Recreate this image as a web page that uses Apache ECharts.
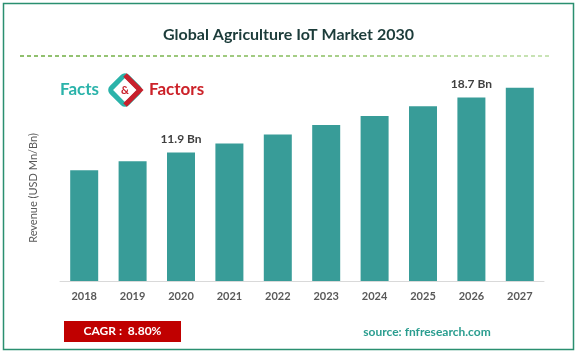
<!DOCTYPE html>
<html>
<head>
<meta charset="utf-8">
<script src="https://cdn.jsdelivr.net/npm/echarts@6/dist/echarts.min.js"></script>
<style>
  html, body { margin: 0; padding: 0; background: #fff; }
  #myChart { width: 577px; height: 353px; }
</style>
</head>
<body>
<div id="myChart"></div>
<script>
var years = ['2018', '2019', '2020', '2021', '2022', '2023', '2024', '2025', '2026', '2027'];
var revenue = [9.7, 10.8, 11.9, 13.0, 14.1, 15.3, 16.4, 17.6, 18.7, 19.9];
var labelledYears = ['2020', '2026'];

var yMin = -4;
var myChart = echarts.init(document.getElementById('myChart'));

var barData = revenue.map(function (v, i) {
    return [i, v];
});

// bars are drawn from the bottom of the value axis, not from zero
function renderBar(params, api) {
    var idx = api.value(0);
    var top = api.coord([idx, api.value(1)]);
    var base = api.coord([idx, yMin]);
    var w = 28;
    var children = [{
        type: 'rect',
        shape: { x: top[0] - w / 2, y: top[1], width: w, height: base[1] - top[1] },
        style: { fill: '#389c98' }
    }];
    if (labelledYears.indexOf(years[idx]) >= 0) {
        children.push({
            type: 'text',
            x: top[0],
            y: top[1] - 7,
            style: {
                text: api.value(1) + ' Bn',
                fill: '#404040',
                font: 'bold 12px Lato',
                align: 'center',
                verticalAlign: 'bottom'
            }
        });
    }
    return { type: 'group', children: children };
}

var option = {
    title: {
        text: 'Global Agriculture IoT Market 2030',
        left: 'center',
        top: 22,
        textStyle: {
            fontFamily: 'Lato',
            fontWeight: 'bold',
            fontSize: 16,
            color: '#1c3c3a'
        }
    },
    grid: {
        left: 60,
        right: 33,
        top: 70.7,
        bottom: 72
    },
    xAxis: {
        type: 'category',
        data: years,
        axisTick: { show: false },
        axisLine: { onZero: false, lineStyle: { color: '#d9d9d9' } },
        axisLabel: {
            color: '#595959',
            fontFamily: 'Lato',
            fontWeight: 'bold',
            fontSize: 11,
            margin: 10
        }
    },
    yAxis: {
        type: 'value',
        min: yMin,
        max: 22,
        show: false
    },
    series: [
        {
            type: 'custom',
            renderItem: renderBar,
            data: barData,
            encode: { x: 0, y: 1 },
            z: 1
        }
    ],
    graphic: [
        {
            type: 'rect',
            shape: { x: 3.5, y: 3.5, width: 570, height: 346 },
            style: { fill: 'none', stroke: '#2a8f70', lineWidth: 1.5 },
            silent: true
        },
        {
            type: 'line',
            shape: { x1: 20, y1: 56, x2: 549, y2: 56 },
            style: {
                stroke: new echarts.graphic.LinearGradient(0, 0, 1, 0, [
                    { offset: 0, color: '#6aaa3c' },
                    { offset: 0.6, color: '#8cc063' },
                    { offset: 1, color: '#b9dca0' }
                ]),
                lineWidth: 1.5,
                lineDash: [4, 3]
            }
        },
        {
            type: 'text',
            left: 60,
            top: 81,
            style: {
                text: 'Facts',
                fill: '#2bb3aa',
                font: 'bold 17px Lato'
            }
        },
        {
            type: 'group',
            x: 125,
            y: 90,
            children: [
                {
                    type: 'rect',
                    rotation: Math.PI / 4,
                    shape: { x: -11, y: -11, width: 22, height: 22, r: 3 },
                    style: { fill: 'none', stroke: '#2bb3aa', lineWidth: 5 }
                },
                {
                    type: 'polyline',
                    shape: { points: [[0, -15], [15, 0], [0, 15]] },
                    style: { fill: 'none', stroke: '#c8202c', lineWidth: 5 }
                },
                {
                    type: 'text',
                    style: {
                        text: '&',
                        x: 0,
                        y: 0,
                        align: 'center',
                        verticalAlign: 'middle',
                        fill: '#c8202c',
                        font: 'bold 11px Lato'
                    }
                }
            ]
        },
        {
            type: 'text',
            left: 149,
            top: 81,
            style: {
                text: 'Factors',
                fill: '#cc2229',
                font: 'bold 17px Lato'
            }
        },
        {
            type: 'text',
            rotation: Math.PI / 2,
            x: 33,
            y: 188,
            style: {
                text: 'Revenue (USD Mn/Bn)',
                fill: '#595959',
                font: '11px Lato',
                align: 'center',
                verticalAlign: 'middle'
            }
        },
        {
            type: 'rect',
            shape: { x: 64, y: 321, width: 117, height: 21 },
            style: { fill: '#c00000' }
        },
        {
            type: 'text',
            x: 122.5,
            y: 331.5,
            style: {
                text: 'CAGR :  8.80%',
                fill: '#ffffff',
                font: 'bold 12px Lato',
                align: 'center',
                verticalAlign: 'middle'
            }
        },
        {
            type: 'text',
            x: 427,
            y: 332,
            style: {
                text: 'source: fnfresearch.com',
                fill: '#2a9d8f',
                font: 'bold 12px Lato',
                align: 'center',
                verticalAlign: 'middle'
            }
        }
    ]
};

myChart.setOption(option);
</script>
</body>
</html>
